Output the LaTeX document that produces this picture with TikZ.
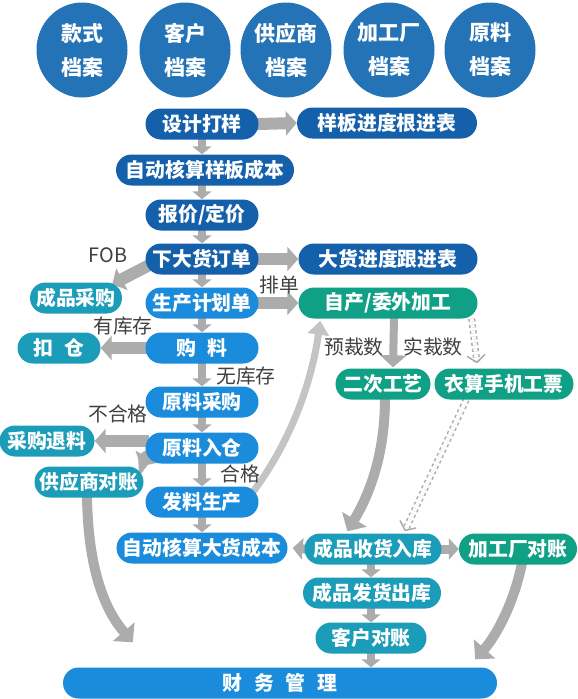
\documentclass[tikz,border=0pt]{standalone}
\usepackage{fontspec}
\setmainfont{Noto Sans CJK SC}
\usetikzlibrary{arrows.meta,positioning,shapes.geometric,calc,backgrounds}

\definecolor{circblue}{HTML}{2473B6}
\definecolor{darkblue}{HTML}{1560AA}
\definecolor{midblue}{HTML}{1A8CDB}
\definecolor{tealblue}{HTML}{1B9CB8}
\definecolor{tealgreen}{HTML}{0FA086}
\definecolor{arrgray}{HTML}{ACACAC}
\definecolor{lightgray}{HTML}{C4C4C4}
\definecolor{labgray}{HTML}{404040}

\begin{document}
\begin{tikzpicture}[x=1pt,y=-1pt,
	archive/.style={ellipse,fill=circblue,minimum width=91pt,minimum height=95pt,inner sep=0pt,
		text=white,align=center,font=\bfseries\fontsize{21}{34}\selectfont},
	box/.style={rectangle,rounded corners=15.5pt,minimum height=31pt,inner sep=0pt,
		text=white,font=\bfseries\fontsize{19.8}{22}\selectfont},
	lab/.style={text=labgray,inner sep=0pt,font=\fontsize{19.8}{22}\selectfont},
	down/.style={draw=arrgray,line width=8pt,-{Triangle[length=8pt,width=19pt]},shorten <=-4pt},
	flow/.style={draw=arrgray,line width=12pt,-{Triangle[length=11pt,width=24pt]},shorten <=-4pt},
	bigcurve/.style={draw=arrgray,line width=10pt,-{Triangle[length=14pt,width=28pt]}},
	ticketflow/.style={draw=arrgray,dashed,double=white,double distance=4pt,line width=1.5pt,
		-{Straight Barb[length=7pt,width=18pt]}}]

	\useasboundingbox (0,0) rectangle (578,699);

	% The archives
	\foreach \x/\name [count=\i] in {82/款式,185/客户,286/供应商,389/加工厂,490/原料}
		\node[archive] (arc\i) at (\x,50) {\name\\档案};

	% Main column
	\node[box,fill=darkblue,minimum width=113pt] (design)     at (202,124) {设计打样};
	\node[box,fill=darkblue,minimum width=178pt] (samplecost) at (205,170) {自动核算样板成本};
	\node[box,fill=darkblue,minimum width=113pt] (quote)      at (202,215) {报价/定价};
	\node[box,fill=darkblue,minimum width=113pt] (order)      at (202,259) {下大货订单};
	\node[box,fill=midblue, minimum width=113pt] (plan)       at (202,303) {生产计划单};
	\node[box,fill=midblue, minimum width=113pt] (buy)        at (202,348) {购\hspace{0.55em}料};
	\node[box,fill=midblue, minimum width=113pt] (matbuy)     at (202,402) {原料采购};
	\node[box,fill=midblue, minimum width=113pt] (matin)      at (202,448) {原料入仓};
	\node[box,fill=midblue, minimum width=113pt] (issue)      at (202,502) {发料生产};
	\node[box,fill=midblue, minimum width=171pt] (bulkcost)   at (202,548) {自动核算大货成本};
	\node[box,fill=midblue, minimum width=434pt] (finance)    at (280,683)
		{财\hspace{0.6em}务\hspace{0.6em}管\hspace{0.6em}理};

	% Left column
	\node[box,fill=tealblue,minimum width=92pt]  (fgbuy)  at (76,298) {成品采购};
	\node[box,fill=tealblue,minimum width=83pt]  (deduct) at (59,348) {扣\hspace{0.6em}仓};
	\node[box,fill=tealblue,minimum width=95pt]  (refund) at (47,441) {采购退料};
	\node[box,fill=tealblue,minimum width=109pt] (supacc) at (89,482) {供应商对账};

	% Right column
	\node[box,fill=darkblue, minimum width=180pt] (sampletrack) at (387,123) {样板进度根进表};
	\node[box,fill=darkblue, minimum width=179pt] (bulktrack)   at (388,259) {大货进度跟进表};
	\node[box,fill=tealgreen,minimum width=179pt] (make)        at (388,303) {自产/委外加工};
	\node[box,fill=tealgreen,minimum width=95pt]  (craft)       at (383,384) {二次工艺};
	\node[box,fill=tealgreen,minimum width=139pt] (ticket)      at (504,384) {衣算手机工票};
	\node[box,fill=tealblue, minimum width=137pt] (fgin)        at (373,549) {成品收货入库};
	\node[box,fill=tealgreen,minimum width=118pt] (facacc)      at (518,549) {加工厂对账};
	\node[box,fill=tealblue, minimum width=138pt] (fgout)       at (372,593) {成品发货出库};
	\node[box,fill=tealblue, minimum width=111pt] (custacc)     at (371,638) {客户对账};

	% Labels
	\node[lab] (fob)     at (108,255) {FOB};
	\node[lab] (paidan)  at (279,285) {排单};
	\node[lab] (instock) at (123,326) {有库存};
	\node[lab] (nostock) at (246,376) {无库存};
	\node[lab] (fail)    at (118,414) {不合格};
	\node[lab] (pass)    at (240,474) {合格};
	\node[lab] (precut)  at (354,347) {预裁数};
	\node[lab] (realcut) at (433,347) {实裁数};

	\begin{scope}[on background layer]
		% Down the main column
		\foreach \a/\b in {design/samplecost,samplecost/quote,quote/order,order/plan,plan/buy,
			buy/matbuy,matbuy/matin,matin/issue,issue/bulkcost}
			\draw[down] (\a.south -| design) -- (\b.north -| design);
		\foreach \a/\b in {fgin/fgout,fgout/custacc,custacc/finance}
			\draw[down] (\a.south -| custacc) -- (\b.north -| custacc);

		% Sideways
		\draw[flow] (design.east) -- (sampletrack.west);
		\draw[flow] (order.east) -- (bulktrack.west);
		\draw[flow] (plan.east) -- (make.west);
		\draw[flow] (buy.west) -- (deduct.east);
		\draw[flow] (matin.west |- refund) -- (refund.east);
		\draw[flow] ($(order.west)+(6,5)$) -- ($(fgbuy.north east)+(-10,2)$);
		\draw[flow] ($(matin.west)+(2,8)$) to[out=200,in=60] ($(supacc.north east)+(-3,0)$);
		\draw[down,line width=9pt,-{Triangle[length=10pt,width=21pt]}] (fgin.west) -- ($(bulkcost.east)+(5,0)$);
		\draw[down,line width=9pt,-{Triangle[length=10pt,width=21pt]}] (fgin.east) -- (facacc.west);

		% Issue back to production
		\draw[draw=lightgray,line width=7pt,-{Triangle[length=14pt,width=21pt]}]
			($(issue.north east)+(-6,6)$) .. controls (292,440) and (312,380) .. ($(make.south west)+(22,2)$);

		% Through the workshop
		\draw[draw=arrgray,line width=8pt,-{Triangle[length=12pt,width=26pt]},shorten <=-4pt]
			($(make.south)+(6,0)$) -- ($(craft.north)+(10,-1)$);
		\draw[bigcurve] ($(craft.south)+(2,-2)$) .. controls (385,450) and (372,490) .. ($(fgin.north west)+(43,-2)$);
		\draw[ticketflow] ($(make.south east)+(-6,0)$) -- ($(ticket.north)+(-27,-5)$);
		\draw[ticketflow] ($(ticket.south west)+(32,0)$) -- ($(fgin.north east)+(-37,-2)$);

		% Accounts to finance
		\draw[bigcurve] ($(supacc.south)+(-2,-2)$) .. controls (88,570) and (105,610) .. ($(finance.north west)+(70,-25)$);
		\draw[bigcurve] ($(facacc.south)+(4,-2)$) .. controls (515,600) and (497,635) .. ($(finance.north east)+(-22,-8)$);
	\end{scope}
\end{tikzpicture}
\end{document}
